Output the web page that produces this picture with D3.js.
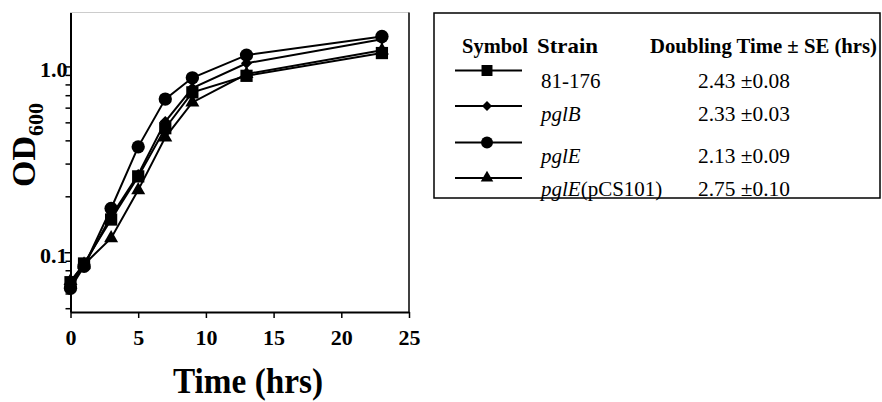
<!DOCTYPE html>
<html>
<head>
<meta charset="utf-8">
<script src="https://cdn.jsdelivr.net/npm/d3@7"></script>
<style>
  body { margin: 0; background: #fff; }
  svg { display: block; }
</style>
</head>
<body>
<svg id="chart" width="882" height="402"></svg>
<script>
// growth curve data (OD600 vs hours)
const times = [0, 1, 3, 5, 7, 9, 13, 23];
const strains = ['81-176', 'pglB', 'pglE', 'pglE(pCS101)'];
const od81176 = [0.069, 0.087, 0.150, 0.256, 0.465, 0.725, 0.89, 1.18];
const odPglB = [0.067, 0.085, 0.156, 0.262, 0.505, 0.765, 1.04, 1.40];
const odPglE = [0.064, 0.084, 0.172, 0.369, 0.667, 0.868, 1.15, 1.45];
const odPglEComp = [0.070, 0.086, 0.119, 0.216, 0.415, 0.640, 0.91, 1.22];
const doubling = [2.43, 2.33, 2.13, 2.75];
const doublingSE = [0.08, 0.03, 0.09, 0.10];

const xTicks = [0, 5, 10, 15, 20, 25];
const yMajor = [0.1, 1.0];
const yMinor = [0.05, 0.06, 0.07, 0.08, 0.09, 0.2, 0.3, 0.4, 0.5, 0.6, 0.7, 0.8, 0.9];

const SERIF = '"Liberation Serif", "Times New Roman", Tinos, "DejaVu Serif", serif';

const series = [
  { name: strains[0], values: od81176, symbol: 'square' },
  { name: strains[1], values: odPglB, symbol: 'diamond' },
  { name: strains[2], values: odPglE, symbol: 'circle' },
  { name: strains[3], values: odPglEComp, symbol: 'triangle' }
];

const svg = d3.select('#chart')
  .attr('font-family', SERIF);

// plot frame in pixels
const plot = { left: 70.5, right: 409, top: 12.5, bottom: 312 };

const x = d3.scaleLinear().domain([0, 25]).range([plot.left, plot.right]);
const y = d3.scaleLog().domain([0.0477, 1.95]).range([plot.bottom, plot.top]);

function symbolPath(kind, scale) {
  const s = scale || 1;
  if (kind === 'square') return d3.symbol().type(d3.symbolSquare).size(150 * s)();
  if (kind === 'circle') return d3.symbol().type(d3.symbolCircle).size(140 * s)();
  if (kind === 'triangle') return d3.symbol().type(d3.symbolTriangle).size(85 * s)();
  return d3.symbol().type(d3.symbolSquare).size(62 * s)(); // rotated below -> diamond
}
function symbolTransform(kind, px, py) {
  return kind === 'diamond' ? `translate(${px},${py}) rotate(45)` : `translate(${px},${py})`;
}

// frame: faint top, thin right
svg.append('line')
  .attr('x1', plot.left).attr('x2', plot.right)
  .attr('y1', plot.top).attr('y2', plot.top)
  .attr('stroke', '#999').attr('stroke-width', 1).attr('stroke-dasharray', '1,1');
svg.append('line')
  .attr('x1', plot.right).attr('x2', plot.right)
  .attr('y1', plot.top).attr('y2', plot.bottom)
  .attr('stroke', '#000').attr('stroke-width', 1.5);

// y axis, major and minor ticks
const yAxisMinor = svg.append('g')
  .attr('transform', `translate(${plot.left},0)`)
  .call(d3.axisLeft(y).tickValues(yMinor).tickSize(5).tickFormat(''));
yAxisMinor.select('.domain').remove();
yAxisMinor.selectAll('line').attr('stroke-width', 1.5);

const yAxis = svg.append('g')
  .attr('transform', `translate(${plot.left},0)`)
  .call(d3.axisLeft(y).tickValues(yMajor).tickSize(6).tickPadding(3).tickSizeOuter(0)
    .tickFormat(d3.format('.1f')));
yAxis.attr('font-family', SERIF);
yAxis.select('.domain').attr('stroke-width', 2);
yAxis.selectAll('line').attr('stroke-width', 1.5);
yAxis.selectAll('text')
  .attr('font-family', SERIF)
  .attr('font-size', 22)
  .attr('font-weight', 'bold')
  .attr('dy', '0.45em')
  .attr('x', -3);

// x axis
const xAxis = svg.append('g')
  .attr('transform', `translate(0,${plot.bottom})`)
  .call(d3.axisBottom(x).tickValues(xTicks).tickSize(6).tickPadding(11).tickSizeOuter(0));
xAxis.attr('font-family', SERIF);
xAxis.select('.domain').attr('stroke-width', 2);
xAxis.selectAll('line').attr('stroke-width', 1.5);
xAxis.selectAll('text')
  .attr('font-family', SERIF)
  .attr('font-size', 22)
  .attr('font-weight', 'bold');

// axis titles
svg.append('text')
  .attr('x', 248).attr('y', 393)
  .attr('text-anchor', 'middle')
  .attr('font-size', 35)
  .attr('font-weight', 'bold')
  .attr('textLength', 150)
  .attr('lengthAdjust', 'spacingAndGlyphs')
  .text('Time (hrs)');

const yTitle = svg.append('text')
  .attr('transform', 'translate(35,187) rotate(-90)')
  .attr('font-weight', 'bold');
yTitle.append('tspan')
  .attr('font-size', 34)
  .text('OD');
yTitle.append('tspan')
  .attr('dy', 8)
  .attr('font-size', 22)
  .text('600');

// curves
const line = d3.line()
  .x((d, i) => x(times[i]))
  .y(d => y(d));

series.forEach(s => {
  svg.append('path')
    .attr('d', line(s.values))
    .attr('fill', 'none')
    .attr('stroke', '#000')
    .attr('stroke-width', 2);
});

series.forEach(s => {
  svg.append('g').selectAll('path')
    .data(s.values)
    .join('path')
    .attr('d', symbolPath(s.symbol))
    .attr('transform', (d, i) => symbolTransform(s.symbol, x(times[i]), y(d)))
    .attr('fill', '#000');
});

// legend table
const legend = svg.append('g').attr('font-family', SERIF);
legend.append('rect')
  .attr('x', 434).attr('y', 13)
  .attr('width', 446).attr('height', 185)
  .attr('fill', 'none')
  .attr('stroke', '#000')
  .attr('stroke-width', 1.5);

const headers = [
  { label: 'Symbol', x: 462, w: 66 },
  { label: 'Strain', x: 537, w: 61 },
  { label: 'Doubling Time \u00b1 SE (hrs)', x: 650, w: 227 }
];
headers.forEach(h => {
  legend.append('text')
    .attr('x', h.x).attr('y', 53)
    .attr('font-size', 21)
    .attr('font-weight', 'bold')
    .attr('textLength', h.w)
    .attr('lengthAdjust', 'spacingAndGlyphs')
    .text(h.label);
});

const symbolRows = [70.5, 106, 142.5, 178];
const textRows = [88, 121, 163, 195.5];

series.forEach((s, i) => {
  legend.append('line')
    .attr('x1', 455).attr('x2', 522)
    .attr('y1', symbolRows[i]).attr('y2', symbolRows[i])
    .attr('stroke', '#000').attr('stroke-width', 2);
  legend.append('path')
    .attr('d', symbolPath(s.symbol, 0.8))
    .attr('transform', symbolTransform(s.symbol, 487, symbolRows[i]))
    .attr('fill', '#000');

  const t = legend.append('text')
    .attr('x', 541).attr('y', textRows[i])
    .attr('font-size', 21);
  if (s.name.startsWith('pgl')) {
    const gene = s.name.slice(0, 4);
    t.append('tspan').attr('font-style', 'italic').text(gene);
    if (s.name.length > 4) t.append('tspan').text(s.name.slice(4));
  } else {
    t.text(s.name);
  }

  legend.append('text')
    .attr('x', 698).attr('y', textRows[i])
    .attr('font-size', 21)
    .attr('textLength', 92)
    .attr('lengthAdjust', 'spacingAndGlyphs')
    .text(`${doubling[i].toFixed(2)} \u00b1${doublingSE[i].toFixed(2)}`);
});
</script>
</body>
</html>
